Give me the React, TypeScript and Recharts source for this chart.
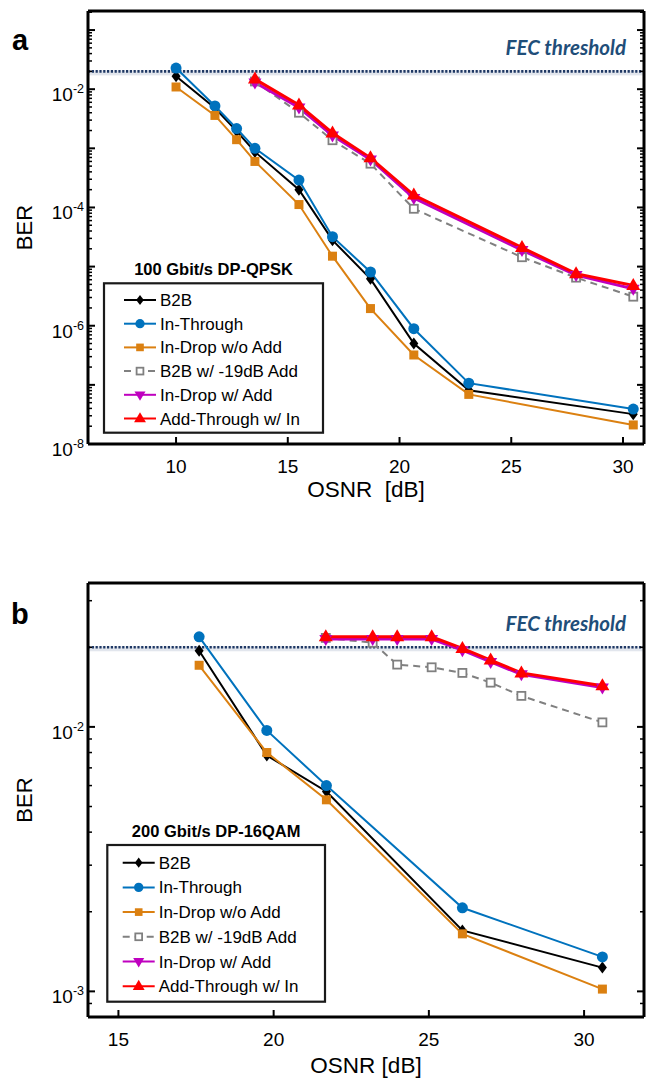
import React from "react";
import { LineChart, Line, XAxis, YAxis, ReferenceLine, Legend } from "recharts";

// ---------- panel a: 100 Gbit/s DP-QPSK ----------
const osnrA = [10, 11.74, 12.71, 13.53, 15.5, 17, 18.7, 20.64, 23.1, 30.46];
const osnrAAdd = [13.53, 15.5, 17, 18.7, 20.64, 25.48, 27.9, 30.46];

const berAB2b = [1.66e-2, 4.8e-3, 1.95e-3, 8.7e-4, 2.0e-4, 2.8e-5, 6.2e-6, 5.0e-7, 8.1e-8, 3.2e-8];
const berAInThrough = [2.28e-2, 5.2e-3, 2.16e-3, 1.0e-3, 2.9e-4, 3.2e-5, 8.1e-6, 8.9e-7, 1.07e-7, 3.9e-8];
const berAInDropNoAdd = [1.09e-2, 3.6e-3, 1.4e-3, 6.0e-4, 1.12e-4, 1.5e-5, 1.95e-6, 3.2e-7, 6.9e-8, 2.1e-8];
const berAB2bAdd = [1.35e-2, 4.0e-3, 1.37e-3, 5.5e-4, 9.5e-5, 1.44e-5, 6.5e-6, 3.1e-6];
const berAInDropAdd = [1.3e-2, 4.9e-3, 1.65e-3, 6.5e-4, 1.45e-4, 1.9e-5, 7.2e-6, 4.2e-6];
const berAAddThrough = [1.48e-2, 5.4e-3, 1.82e-3, 6.9e-4, 1.62e-4, 2.1e-5, 7.6e-6, 4.8e-6];

// ---------- panel b: 200 Gbit/s DP-16QAM ----------
const osnrB = [17.6, 19.78, 21.7, 26.08, 30.59];
const osnrBAdd = [21.68, 23.19, 23.98, 25.09, 26.08, 26.99, 27.98, 30.59];

const berBB2b = [1.94e-2, 7.8e-3, 5.7e-3, 1.7e-3, 1.23e-3];
const berBInThrough = [2.19e-2, 9.7e-3, 6.0e-3, 2.07e-3, 1.35e-3];
const berBInDropNoAdd = [1.71e-2, 8.0e-3, 5.3e-3, 1.65e-3, 1.02e-3];
const berBB2bAdd = [2.17e-2, 2.08e-2, 1.72e-2, 1.68e-2, 1.6e-2, 1.47e-2, 1.31e-2, 1.04e-2];
const berBInDropAdd = [2.15e-2, 2.15e-2, 2.15e-2, 2.15e-2, 1.95e-2, 1.76e-2, 1.58e-2, 1.41e-2];
const berBAddThrough = [2.19e-2, 2.19e-2, 2.19e-2, 2.19e-2, 1.98e-2, 1.79e-2, 1.6e-2, 1.43e-2];

const seriesNames = ["B2B", "In-Through", "In-Drop w/o Add", "B2B w/ -19dB Add", "In-Drop w/ Add", "Add-Through w/ In"];
const fecThreshold = 2e-2;

const xTicksA = [10, 15, 20, 25, 30];
const xTicksB = [15, 20, 25, 30];
const labeledDecadesA = [-8, -6, -4, -2];
const labeledDecadesB = [-3, -2];
const minorSteps = [1, 2, 3, 4, 5, 6, 7, 8, 9];

const FONT = '"Liberation Sans", Arial, Helvetica, sans-serif';

const styles = [
  { color: "#000000", width: 2, dash: undefined, marker: "diamond" },
  { color: "#0072BD", width: 2, dash: undefined, marker: "circle" },
  { color: "#DB8011", width: 2, dash: undefined, marker: "square" },
  { color: "#808080", width: 2, dash: "7 5", marker: "openSquare" },
  { color: "#BF00BF", width: 3, dash: undefined, marker: "triDown" },
  { color: "#FF0000", width: 3, dash: undefined, marker: "triUp" },
];

const toRows = (xs: number[], ys: number[]) => xs.map((x, i) => ({ x, y: ys[i] }));

function logTicks(lo: number, hi: number) {
  const out: number[] = [];
  for (let e = Math.floor(Math.log10(lo)); e <= Math.ceil(Math.log10(hi)); e++) {
    for (const m of minorSteps) {
      const v = m * Math.pow(10, e);
      if (v >= lo * 0.999 && v <= hi * 1.001) out.push(v);
    }
  }
  return out;
}

function Marker({ kind, cx, cy, color, s = 1 }: any) {
  if (cx == null || cy == null) return null;
  switch (kind) {
    case "diamond":
      return <path d={`M${cx},${cy - 6 * s} L${cx + 4.5 * s},${cy} L${cx},${cy + 6 * s} L${cx - 4.5 * s},${cy} Z`} fill={color} />;
    case "circle":
      return <circle cx={cx} cy={cy} r={5.5 * s} fill={color} />;
    case "square":
      return <rect x={cx - 4.5 * s} y={cy - 4.5 * s} width={9 * s} height={9 * s} fill={color} />;
    case "openSquare":
      return <rect x={cx - 4 * s} y={cy - 4 * s} width={8 * s} height={8 * s} fill="#fff" stroke={color} strokeWidth={1.8} />;
    case "triDown":
      return <path d={`M${cx - 6.5 * s},${cy - 4 * s} L${cx + 6.5 * s},${cy - 4 * s} L${cx},${cy + 7 * s} Z`} fill={color} />;
    default:
      return <path d={`M${cx - 7 * s},${cy + 4.5 * s} L${cx + 7 * s},${cy + 4.5 * s} L${cx},${cy - 7.5 * s} Z`} fill={color} />;
  }
}

const isDecade = (v: number) => {
  const lg = Math.log10(v);
  return Math.abs(lg - Math.round(lg)) < 1e-6;
};

const makeLeftTick = (labeled: number[]) => (p: any) => {
  const { x, y, payload } = p;
  const major = isDecade(payload.value);
  const e = Math.round(Math.log10(payload.value));
  return (
    <g>
      <line x1={x} x2={x + (major ? 7 : 4)} y1={y} y2={y} stroke="#000" strokeWidth={major ? 2 : 1.5} />
      {major && labeled.includes(e) && (
        <text x={x - 4} y={y + 12} textAnchor="end" fontSize={19} fontFamily={FONT} fill="#000">
          10
          <tspan dy={-8} fontSize={12.5}>{`-${Math.abs(e)}`}</tspan>
        </text>
      )}
    </g>
  );
};

const RightTick = (p: any) => {
  const { x, y, payload } = p;
  const major = isDecade(payload.value);
  return <line x1={x} x2={x - (major ? 7 : 4)} y1={y} y2={y} stroke="#000" strokeWidth={major ? 2 : 1.5} />;
};

const BottomTick = (p: any) => (
  <g>
    <line x1={p.x} x2={p.x} y1={p.y} y2={p.y - 7} stroke="#000" strokeWidth={2} />
    <text x={p.x} y={p.y + 28.5} textAnchor="middle" fontSize={19} fontFamily={FONT} fill="#000">
      {p.payload.value}
    </text>
  </g>
);

const TopTick = (p: any) => <line x1={p.x} x2={p.x} y1={p.y} y2={p.y + 7} stroke="#000" strokeWidth={2} />;

function LegendBox({ title, box, rowY0, rowStep, sampleX }: any) {
  return (
    <svg width={240} height={box.y + box.h + 4} style={{ overflow: "visible" }}>
      <text x={box.x + box.w / 2} y={20} textAnchor="middle" fontSize={16.5} fontWeight="bold" fontFamily={FONT} fill="#000">
        {title}
      </text>
      <rect x={box.x} y={box.y} width={box.w} height={box.h} fill="#fff" stroke="#1a1a1a" strokeWidth={2.2} />
      {seriesNames.map((name, i) => {
        const st = styles[i];
        const y = rowY0 + i * rowStep;
        return (
          <g key={name}>
            <line x1={sampleX} x2={sampleX + 32} y1={y} y2={y} stroke={st.color} strokeWidth={2} strokeDasharray={st.dash} />
            <Marker kind={st.marker} cx={sampleX + 16} cy={y} color={st.color} s={0.85} />
            <text x={sampleX + 36} y={y + 6} fontSize={17} fontFamily={FONT} fill="#000">
              {name}
            </text>
          </g>
        );
      })}
    </svg>
  );
}

function Panel(props: any) {
  const { height, marginTop, xAxisHeight, xDomain, xTicks, yDomain, labeled, series, xLabel, xLabelGap, legend } = props;
  const yTicks = logTicks(yDomain[0], yDomain[1]);
  return (
    <LineChart width={646} height={height} margin={{ top: marginTop, right: 1, bottom: 0, left: 0 }}>
      <XAxis
        type="number"
        dataKey="x"
        domain={xDomain}
        ticks={xTicks}
        allowDataOverflow
        interval={0}
        height={xAxisHeight}
        tickSize={0}
        tickMargin={0}
        tickLine={false}
        axisLine={{ stroke: "#000", strokeWidth: 3 }}
        tick={BottomTick}
        label={{
          content: (lp: any) => (
            <text
              x={lp.viewBox.x + lp.viewBox.width / 2}
              y={lp.viewBox.y + xLabelGap}
              textAnchor="middle"
              fontSize={22.5}
              fontFamily={FONT}
              fill="#000"
              style={{ whiteSpace: "pre" }}
            >
              {xLabel}
            </text>
          ),
        }}
      />
      <XAxis
        xAxisId="top"
        orientation="top"
        type="number"
        domain={xDomain}
        ticks={xTicks}
        allowDataOverflow
        interval={0}
        height={1}
        tickSize={0}
        tickMargin={0}
        tickLine={false}
        axisLine={{ stroke: "#000", strokeWidth: 3 }}
        tick={TopTick}
      />
      <YAxis
        type="number"
        scale="log"
        domain={yDomain}
        ticks={yTicks}
        allowDataOverflow
        interval={0}
        width={88}
        tickSize={0}
        tickMargin={0}
        tickLine={false}
        axisLine={{ stroke: "#000", strokeWidth: 3 }}
        tick={makeLeftTick(labeled)}
        label={{
          content: (lp: any) => {
            const cy = lp.viewBox.y + lp.viewBox.height / 2;
            return (
              <text x={31.5} y={cy} transform={`rotate(-90, 31.5, ${cy})`} textAnchor="middle" fontSize={22} fontFamily={FONT} fill="#000">
                BER
              </text>
            );
          },
        }}
      />
      <YAxis
        yAxisId="right"
        orientation="right"
        type="number"
        scale="log"
        domain={yDomain}
        ticks={yTicks}
        allowDataOverflow
        interval={0}
        width={1}
        tickSize={0}
        tickMargin={0}
        tickLine={false}
        axisLine={{ stroke: "#000", strokeWidth: 3 }}
        tick={RightTick}
      />
      <ReferenceLine
        y={fecThreshold}
        shape={(lp: any) => (
          <rect x={Math.min(lp.x1, lp.x2)} y={lp.y1 - 1} width={Math.abs(lp.x2 - lp.x1)} height={5} fill="#e2e6ed" />
        )}
      />
      <ReferenceLine
        y={fecThreshold}
        stroke="#1f3864"
        strokeWidth={2.6}
        strokeDasharray="2.2 1.6"
        label={{
          content: (lp: any) => (
            <text
              x={lp.viewBox.x + lp.viewBox.width - 18}
              y={lp.viewBox.y - 16}
              textAnchor="end"
              fontSize={20.5}
              fontStyle="italic"
              fontWeight="bold"
              fontFamily="Lato, 'Open Sans', sans-serif"
              fill="#1F4E79"
            >
              FEC threshold
            </text>
          ),
        }}
      />
      {series.map((s: any, i: number) => {
        const st = styles[i];
        return (
          <Line
            key={seriesNames[i]}
            name={seriesNames[i]}
            data={toRows(s.x, s.y)}
            dataKey="y"
            type="linear"
            stroke={st.color}
            strokeWidth={st.width}
            strokeDasharray={st.dash}
            dot={(dp: any) => <Marker key={`m-${i}-${dp.index}`} kind={st.marker} cx={dp.cx} cy={dp.cy} color={st.color} />}
            activeDot={false}
            isAnimationActive={false}
          />
        );
      })}
      <Legend
        layout="vertical"
        align="center"
        verticalAlign="middle"
        wrapperStyle={{ left: legend.left, top: legend.top, width: 240, height: 190 }}
        content={() => <LegendBox {...legend} />}
      />
    </LineChart>
  );
}

export default function App() {
  const seriesA = [
    { x: osnrA, y: berAB2b },
    { x: osnrA, y: berAInThrough },
    { x: osnrA, y: berAInDropNoAdd },
    { x: osnrAAdd, y: berAB2bAdd },
    { x: osnrAAdd, y: berAInDropAdd },
    { x: osnrAAdd, y: berAAddThrough },
  ];
  const seriesB = [
    { x: osnrB, y: berBB2b },
    { x: osnrB, y: berBInThrough },
    { x: osnrB, y: berBInDropNoAdd },
    { x: osnrBAdd, y: berBB2bAdd },
    { x: osnrBAdd, y: berBInDropAdd },
    { x: osnrBAdd, y: berBAddThrough },
  ];
  return (
    <div style={{ position: "absolute", left: 0, top: 0, width: 646, height: 1079, background: "#fff", fontFamily: FONT }}>
      <div style={{ position: "absolute", left: 0, top: 0 }}>
        <Panel
          height={540}
          marginTop={10}
          xAxisHeight={96}
          xDomain={[6.06, 30.94]}
          xTicks={xTicksA}
          yDomain={[1e-8, 0.21]}
          labeled={labeledDecadesA}
          series={seriesA}
          xLabel="OSNR  [dB]"
          xLabelGap={53}
          legend={{
            left: 96,
            top: 255,
            title: "100 Gbit/s DP-QPSK",
            box: { x: 8, y: 28.3, w: 219, h: 149.4 },
            rowY0: 45,
            rowStep: 23.7,
            sampleX: 28,
          }}
        />
      </div>
      <div style={{ position: "absolute", left: 0, top: 560 }}>
        <Panel
          height={519}
          marginTop={22}
          xAxisHeight={62}
          xDomain={[14.02, 31.93]}
          xTicks={xTicksB}
          yDomain={[8e-4, 0.035]}
          labeled={labeledDecadesB}
          series={seriesB}
          xLabel="OSNR [dB]"
          xLabelGap={56}
          legend={{
            left: 96,
            top: 257,
            title: "200 Gbit/s DP-16QAM",
            box: { x: 11.3, y: 28, w: 217.7, h: 156.7 },
            rowY0: 45.7,
            rowStep: 24.7,
            sampleX: 26.7,
          }}
        />
      </div>
      <svg width={646} height={1079} style={{ position: "absolute", left: 0, top: 0, pointerEvents: "none" }}>
        <text x={12} y={50} fontSize={29} fontWeight="bold" fontFamily={FONT} fill="#000">a</text>
        <text x={11} y={624} fontSize={29} fontWeight="bold" fontFamily={FONT} fill="#000">b</text>
      </svg>
    </div>
  );
}
